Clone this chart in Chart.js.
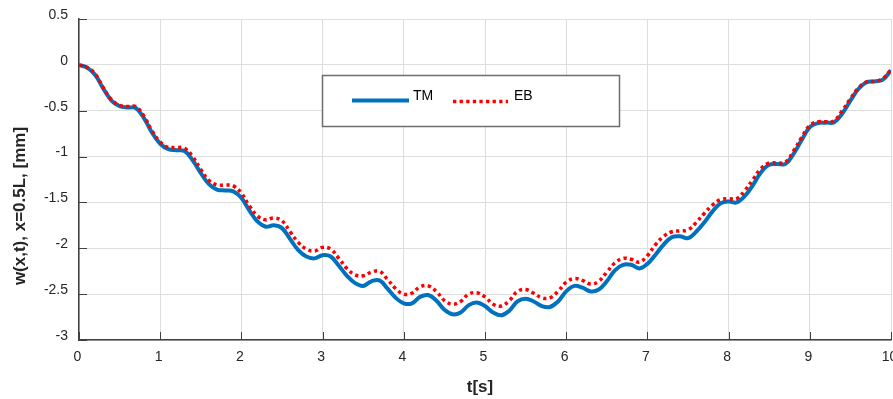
<!DOCTYPE html>
<html>
<head>
<meta charset="utf-8">
<script src="https://cdn.jsdelivr.net/npm/chart.js@4.4.1/dist/chart.umd.min.js"></script>
<style>
  html, body { margin: 0; padding: 0; background: #fff; }
  #wrap { width: 893px; height: 399px; }
</style>
</head>
<body>
<div id="wrap"><canvas id="deflexao"></canvas></div>
<script>
// tempo [s]
const times = [
  0.0, 0.1, 0.2, 0.3, 0.4, 0.5, 0.6, 0.7, 0.8, 0.9,
  1.0, 1.1, 1.2, 1.3, 1.4, 1.5, 1.6, 1.7, 1.8, 1.9,
  2.0, 2.1, 2.2, 2.3, 2.4, 2.5, 2.6, 2.7, 2.8, 2.9,
  3.0, 3.1, 3.2, 3.3, 3.4, 3.5, 3.6, 3.7, 3.8, 3.9,
  4.0, 4.1, 4.2, 4.3, 4.4, 4.5, 4.6, 4.7, 4.8, 4.9,
  5.0, 5.1, 5.2, 5.3, 5.4, 5.5, 5.6, 5.7, 5.8, 5.9,
  6.0, 6.1, 6.2, 6.3, 6.4, 6.5, 6.6, 6.7, 6.8, 6.9,
  7.0, 7.1, 7.2, 7.3, 7.4, 7.5, 7.6, 7.7, 7.8, 7.9,
  8.0, 8.1, 8.2, 8.3, 8.4, 8.5, 8.6, 8.7, 8.8, 8.9,
  9.0, 9.1, 9.2, 9.3, 9.4, 9.5, 9.6, 9.7, 9.8, 9.9,
  10.0
];

// Timoshenko
const tm = [
  0.00, -0.03, -0.11, -0.26, -0.39, -0.45, -0.465, -0.47, -0.58, -0.74,
  -0.86, -0.92, -0.93, -0.94, -1.04, -1.18, -1.30, -1.36, -1.37, -1.38,
  -1.45, -1.59, -1.71, -1.765, -1.75, -1.78, -1.90, -2.02, -2.09, -2.11,
  -2.075, -2.09, -2.19, -2.30, -2.38, -2.41, -2.36, -2.35, -2.44, -2.54,
  -2.60, -2.60, -2.53, -2.51, -2.57, -2.67, -2.72, -2.70, -2.62, -2.59,
  -2.63, -2.70, -2.73, -2.68, -2.58, -2.55, -2.58, -2.63, -2.64, -2.58,
  -2.47, -2.41, -2.43, -2.47, -2.45, -2.36, -2.24, -2.18, -2.18, -2.22,
  -2.17, -2.07, -1.96, -1.88, -1.87, -1.89, -1.82, -1.72, -1.60, -1.51,
  -1.49, -1.50, -1.43, -1.31, -1.17, -1.09, -1.08, -1.08, -0.97, -0.82,
  -0.68, -0.635, -0.63, -0.625, -0.53, -0.39, -0.26, -0.19, -0.18, -0.16,
  -0.06
];

// Euler-Bernoulli
const eb = [
  0.00, -0.03, -0.10, -0.25, -0.38, -0.44, -0.455, -0.455, -0.56, -0.72,
  -0.84, -0.90, -0.90, -0.91, -1.00, -1.14, -1.26, -1.31, -1.31, -1.32,
  -1.40, -1.54, -1.65, -1.69, -1.67, -1.70, -1.82, -1.935, -2.01, -2.03,
  -1.99, -2.01, -2.11, -2.22, -2.29, -2.30, -2.26, -2.25, -2.34, -2.44,
  -2.50, -2.49, -2.42, -2.41, -2.47, -2.57, -2.61, -2.58, -2.50, -2.485,
  -2.53, -2.61, -2.63, -2.57, -2.47, -2.45, -2.49, -2.54, -2.54, -2.47,
  -2.37, -2.33, -2.35, -2.39, -2.36, -2.26, -2.16, -2.11, -2.12, -2.15,
  -2.08, -1.96, -1.87, -1.82, -1.81, -1.80, -1.72, -1.62, -1.53, -1.47,
  -1.46, -1.46, -1.37, -1.25, -1.13, -1.07, -1.07, -1.06, -0.94, -0.79,
  -0.66, -0.62, -0.62, -0.61, -0.50, -0.37, -0.25, -0.185, -0.18, -0.15,
  -0.05
];

const xTicks = [0, 1, 2, 3, 4, 5, 6, 7, 8, 9, 10];
const yTicks = [-3, -2.5, -2, -1.5, -1, -0.5, 0, 0.5];

const azul = "#0072BD";
const vermelho = "#FF0000";
const eixo = "#404040";
const texto = "#262626";

// eixos, marcas internas, títulos e legenda no estilo MATLAB
const moldura = {
  id: "moldura",
  afterDraw(chart) {
    const ctx = chart.ctx;
    const a = chart.chartArea;
    const sx = chart.scales.x;
    const sy = chart.scales.y;

    ctx.save();
    ctx.strokeStyle = eixo;
    ctx.lineWidth = 1;
    ctx.beginPath();
    xTicks.forEach(v => {
      const px = Math.round(sx.getPixelForValue(v)) + 0.5;
      ctx.moveTo(px, a.bottom);
      ctx.lineTo(px, a.bottom - 8);
    });
    yTicks.forEach(v => {
      const py = Math.round(sy.getPixelForValue(v)) + 0.5;
      ctx.moveTo(a.left, py);
      ctx.lineTo(a.left + 8, py);
    });
    ctx.stroke();

    // títulos
    ctx.fillStyle = texto;
    ctx.font = "bold 17px Arial, 'Liberation Sans', sans-serif";
    ctx.textAlign = "center";
    ctx.textBaseline = "middle";
    ctx.fillText("t[s]", (a.left + a.right) / 2 - 5, 387);

    ctx.translate(20, 206);
    ctx.rotate(-Math.PI / 2);
    ctx.fillText("w(x,t), x=0.5L, [mm]", 0, 0);
    ctx.restore();

    // legenda
    ctx.save();
    const bx = 322, by = 75, bw = 297, bh = 51;
    ctx.fillStyle = "#fff";
    ctx.fillRect(bx, by, bw, bh);
    ctx.strokeStyle = "#6e6e6e";
    ctx.lineWidth = 1.5;
    ctx.strokeRect(bx + 0.5, by + 0.5, bw, bh);

    const ly = by + 25.5;
    ctx.lineWidth = 4;
    ctx.strokeStyle = azul;
    ctx.beginPath();
    ctx.moveTo(352, ly);
    ctx.lineTo(409, ly);
    ctx.stroke();

    ctx.strokeStyle = vermelho;
    ctx.lineWidth = 3.5;
    ctx.setLineDash([3.3, 3.3]);
    ctx.beginPath();
    ctx.moveTo(453, ly + 1);
    ctx.lineTo(508, ly + 1);
    ctx.stroke();
    ctx.setLineDash([]);

    ctx.fillStyle = "#000";
    ctx.font = "14px Arial, 'Liberation Sans', sans-serif";
    ctx.textAlign = "left";
    ctx.textBaseline = "middle";
    ctx.fillText("TM", 413, ly - 4);
    ctx.fillText("EB", 514, ly - 4);
    ctx.restore();
  }
};

const ctx = document.getElementById("deflexao");

new Chart(ctx, {
  type: "line",
  data: {
    datasets: [
      {
        label: "TM",
        data: times.map((t, i) => ({ x: t, y: tm[i] })),
        borderColor: azul,
        borderWidth: 4,
        pointRadius: 0,
        tension: 0.4,
        order: 1
      },
      {
        label: "EB",
        data: times.map((t, i) => ({ x: t, y: eb[i] })),
        borderColor: vermelho,
        borderWidth: 3.5,
        borderDash: [3.3, 3.3],
        borderCapStyle: "butt",
        pointRadius: 0,
        tension: 0.4,
        order: 0
      }
    ]
  },
  options: {
    responsive: true,
    maintainAspectRatio: false,
    animation: false,
    layout: { padding: { left: 0, right: 2, top: 19, bottom: 0 } },
    plugins: {
      legend: { display: false },
      tooltip: { enabled: false }
    },
    scales: {
      x: {
        type: "linear",
        min: 0,
        max: 10,
        afterBuildTicks: s => { s.ticks = xTicks.map(v => ({ value: v })); },
        afterFit: s => { s.height = 59; s.paddingLeft = 0; s.paddingRight = 0; },
        ticks: {
          color: texto,
          font: { family: "Arial, 'Liberation Sans', sans-serif", size: 14 },
          padding: 9,
          labelOffset: -1.5,
          maxRotation: 0,
          autoSkip: false
        },
        grid: { color: "#dedede", drawTicks: false },
        border: { display: true, color: eixo, width: 1.5 }
      },
      y: {
        min: -3,
        max: 0.5,
        afterBuildTicks: s => { s.ticks = yTicks.map(v => ({ value: v })); },
        afterFit: s => { s.width = 79; s.paddingTop = 0; s.paddingBottom = 0; },
        ticks: {
          color: texto,
          font: { family: "Arial, 'Liberation Sans', sans-serif", size: 14 },
          padding: 11,
          labelOffset: -4,
          callback: v => String(v),
          autoSkip: false
        },
        grid: { color: "#dedede", drawTicks: false },
        border: { display: true, color: eixo, width: 1.5 }
      }
    }
  },
  plugins: [moldura]
});
</script>
</body>
</html>
